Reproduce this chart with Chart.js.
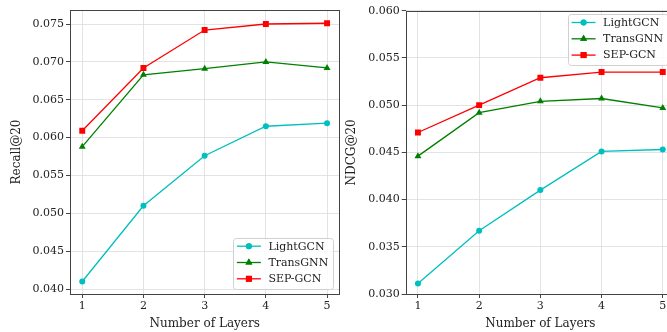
<!DOCTYPE html>
<html><head><meta charset="utf-8">
<script src="https://cdn.jsdelivr.net/npm/chart.js@4/dist/chart.umd.min.js"></script>
<style>
html,body{margin:0;padding:0;background:#fff;overflow:hidden;width:667px;height:332px;position:relative}
#a{position:absolute;left:0;top:0;width:345px;height:332px}
#b{position:absolute;left:340px;top:0;width:345px;height:332px}
</style></head><body>
<div id="a"><canvas id="c1"></canvas></div>
<div id="b"><canvas id="c2"></canvas></div>
<script>
const layers = [1, 2, 3, 4, 5];
const seriesNames = ['LightGCN', 'TransGNN', 'SEP-GCN'];
const recallLightGCN = [0.0410, 0.0510, 0.0576, 0.0615, 0.0619];
const recallTransGNN = [0.0588, 0.0683, 0.0691, 0.0700, 0.0692];
const recallSEPGCN   = [0.0609, 0.0692, 0.0742, 0.0750, 0.0751];
const ndcgLightGCN = [0.0311, 0.0367, 0.0410, 0.0451, 0.0453];
const ndcgTransGNN = [0.0446, 0.0492, 0.0504, 0.0507, 0.0497];
const ndcgSEPGCN   = [0.0471, 0.0500, 0.0529, 0.0535, 0.0535];
const recallTicks = [0.040, 0.045, 0.050, 0.055, 0.060, 0.065, 0.070, 0.075];
const ndcgTicks = [0.030, 0.035, 0.040, 0.045, 0.050, 0.055, 0.060];

const FONT = '"DejaVu Serif", "Liberation Serif", serif';
const colors = ['#00BFBF', '#008000', '#FF0000'];
const styles = ['circle', 'triangle', 'rect'];
const radii = [3, 4, 4.2];

function makeDatasets(lists) {
  return lists.map((vals, i) => ({
    label: seriesNames[i],
    data: vals.map((v, j) => ({x: layers[j], y: v})),
    borderColor: colors[i],
    backgroundColor: colors[i],
    borderWidth: 1.3,
    pointStyle: styles[i],
    pointRadius: radii[i],
    pointBorderWidth: 0,
    pointBackgroundColor: colors[i],
    tension: 0
  }));
}

const framePlugin = {
  id: 'frame',
  afterDatasetsDraw(chart) {
    const {ctx, chartArea: a} = chart;
    ctx.save();
    ctx.strokeStyle = '#444';
    ctx.lineWidth = 1;
    ctx.strokeRect(Math.round(a.left) + 0.5, Math.round(a.top) + 0.5,
      Math.round(a.right) - Math.round(a.left), Math.round(a.bottom) - Math.round(a.top));
    ctx.restore();
  }
};

function legendPlugin(corner) {
  return {
    id: 'customLegend',
    afterDraw(chart) {
      const {ctx, chartArea: a} = chart;
      const ds = chart.data.datasets;
      ctx.save();
      ctx.font = '11px ' + FONT;
      const tw = Math.max(...ds.map(d => ctx.measureText(d.label).width));
      const padL = 3.5, lineW = 24, gap = 7.5, padR = 5;
      const w = padL + lineW + gap + tw + padR;
      const rowH = 16.3;
      const h = 8.5 + rowH * (ds.length - 1) + 9.5;
      let x0, y0;
      if (corner === 'lr') { x0 = a.right - 6 - w; y0 = a.bottom - 5.7 - h; }
      else { x0 = a.right - 7 - w; y0 = a.top + 3.3; }
      ctx.beginPath();
      ctx.roundRect(Math.round(x0) + 0.5, Math.round(y0) + 0.5, Math.round(w), Math.round(h), 3);
      ctx.fillStyle = 'rgba(255,255,255,0.85)';
      ctx.fill();
      ctx.strokeStyle = '#d0d0d0';
      ctx.lineWidth = 1;
      ctx.stroke();
      ds.forEach((d, i) => {
        const cy = y0 + 8.5 + i * rowH;
        const lx = x0 + padL;
        ctx.beginPath();
        ctx.strokeStyle = d.borderColor;
        ctx.lineWidth = 1.3;
        ctx.moveTo(lx, cy); ctx.lineTo(lx + lineW, cy);
        ctx.stroke();
        ctx.fillStyle = d.borderColor;
        Chart.helpers.drawPoint(ctx, {pointStyle: d.pointStyle, radius: d.pointRadius, rotation: 0, borderWidth: 0}, lx + lineW / 2, cy);
        ctx.fill();
        ctx.fillStyle = '#222';
        ctx.textBaseline = 'middle';
        ctx.textAlign = 'left';
        ctx.fillText(d.label, lx + lineW + gap, cy + 0.5);
      });
      ctx.restore();
    }
  };
}

function makeChart(id, lists, yTitle, yMin, yMax, ticks, yWidth, yTitlePad, padRight, padTop, corner) {
  return new Chart(document.getElementById(id), {
    type: 'line',
    data: {datasets: makeDatasets(lists)},
    options: {
      responsive: true,
      maintainAspectRatio: false,
      animation: false,
      layout: {padding: {top: padTop, right: padRight, left: 0, bottom: 0}},
      plugins: {legend: {display: false}, tooltip: {enabled: false}},
      scales: {
        x: {
          type: 'linear', min: 0.8, max: 5.2,
          afterBuildTicks(s) { s.ticks = layers.map(v => ({value: v})); },
          afterFit(s) { s.height = 38; },
          ticks: {font: {family: FONT, size: 11}, color: '#222', padding: 2,
            callback: v => String(v), maxRotation: 0},
          grid: {color: '#dcdcdc', lineWidth: 0.8, borderDash: [3, 2], tickLength: 4,
            tickColor: '#444', tickWidth: 1, tickBorderDash: []},
          border: {display: false},
          title: {display: true, text: 'Number of Layers', font: {family: FONT, size: 12}, color: '#222',
            padding: {top: 1, bottom: 1}}
        },
        y: {
          type: 'linear', min: yMin, max: yMax,
          afterBuildTicks(s) { s.ticks = ticks.map(v => ({value: v})); },
          afterFit(s) { s.width = yWidth; },
          ticks: {font: {family: FONT, size: 11}, color: '#222', padding: 2,
            callback: v => Number(v).toFixed(3)},
          grid: {color: '#dcdcdc', lineWidth: 0.8, borderDash: [3, 2], tickLength: 4,
            tickColor: '#444', tickWidth: 1, tickBorderDash: []},
          border: {display: false},
          title: {display: true, text: yTitle, font: {family: FONT, size: 12}, color: '#222',
            padding: {top: yTitlePad, bottom: 0}}
        }
      }
    },
    plugins: [framePlugin, legendPlugin(corner)]
  });
}

makeChart('c1', [recallLightGCN, recallTransGNN, recallSEPGCN], 'Recall@20', 0.03935, 0.07685, recallTicks, 70, 10, 5.7, 10, 'lr');
makeChart('c2', [ndcgLightGCN, ndcgTransGNN, ndcgSEPGCN], 'NDCG@20', 0.030, 0.060, ndcgTicks, 65.7, 5, 10, 10.7, 'ur');
</script>
</body></html>
